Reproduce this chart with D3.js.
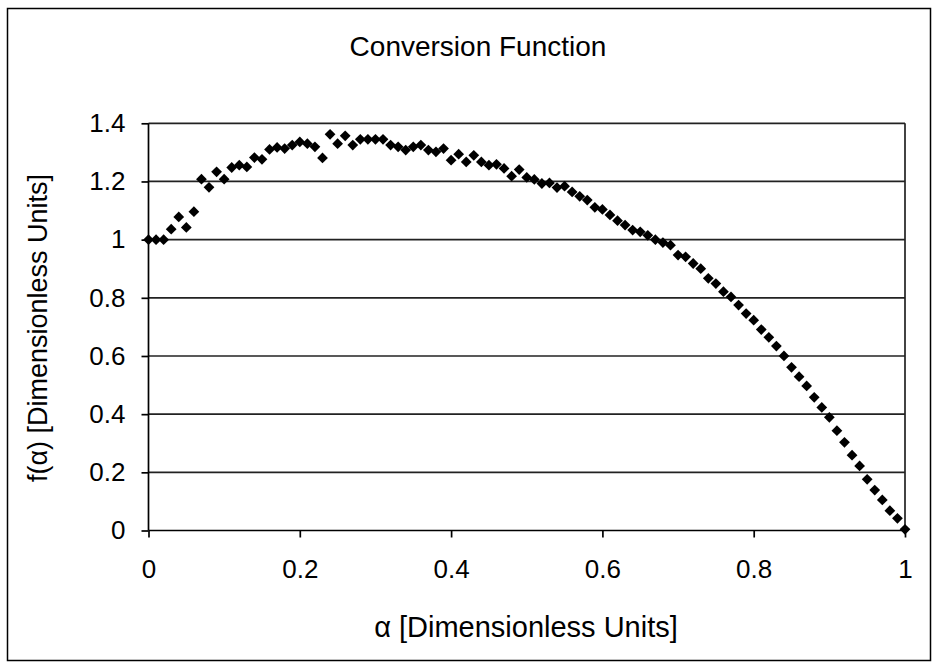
<!DOCTYPE html>
<html>
<head>
<meta charset="utf-8">
<script src="https://cdn.jsdelivr.net/npm/d3@7"></script>
<style>
  html, body { margin: 0; padding: 0; background: #fff; }
  svg text { font-family: "Liberation Sans", Arial, sans-serif; fill: #000; }
</style>
</head>
<body>
<svg id="chart" width="938" height="668"></svg>
<script>
// alpha samples (0 .. 1 in steps of 0.01)
const alphaValues = d3.range(0, 101).map(i => +(i / 100).toFixed(2));

// measured conversion function f(alpha)
const fValues = [
  1.00, 1.00, 1.00, 1.036, 1.078, 1.042, 1.096, 1.208, 1.18, 1.233,
  1.208, 1.248, 1.256, 1.25, 1.282, 1.276, 1.31, 1.317, 1.313, 1.325,
  1.336, 1.33, 1.319, 1.281, 1.362, 1.33, 1.357, 1.325, 1.345, 1.345,
  1.345, 1.345, 1.325, 1.319, 1.308, 1.319, 1.325, 1.308, 1.302, 1.313,
  1.273, 1.294, 1.267, 1.29, 1.267, 1.256, 1.259, 1.245, 1.218, 1.241,
  1.214, 1.207, 1.193, 1.195, 1.179, 1.184, 1.164, 1.149, 1.136, 1.111,
  1.104, 1.085, 1.065, 1.05, 1.033, 1.027, 1.015, 1.0, 0.99, 0.981,
  0.947, 0.941, 0.918, 0.90, 0.867, 0.849, 0.821, 0.803, 0.775, 0.746,
  0.723, 0.691, 0.664, 0.634, 0.60, 0.561, 0.529, 0.497, 0.458, 0.423,
  0.389, 0.343, 0.303, 0.259, 0.222, 0.176, 0.139, 0.105, 0.068, 0.042,
  0.004
];

const xTicks = [0, 0.2, 0.4, 0.6, 0.8, 1];
const yTicks = [0, 0.2, 0.4, 0.6, 0.8, 1, 1.2, 1.4];

const titleText = "Conversion Function";
const xTitle = "\u03B1 [Dimensionless Units]";
const yTitle = "f(\u03B1) [Dimensionless Units]";

const svg = d3.select("#chart");

// outer chart frame
svg.append("rect")
  .attr("x", 7.5).attr("y", 8.5)
  .attr("width", 923).attr("height", 652)
  .attr("fill", "#fff").attr("stroke", "#000").attr("stroke-width", 1.5);

const plot = { left: 148.5, right: 905, top: 123.3, bottom: 530.5 };

const x = d3.scaleLinear().domain([0, 1]).range([plot.left, plot.right]);
const y = d3.scaleLinear().domain([0, 1.4]).range([plot.bottom, plot.top]);

// horizontal gridlines
svg.append("g")
  .selectAll("line")
  .data(yTicks.filter(v => v > 0))
  .join("line")
  .attr("x1", plot.left).attr("x2", plot.right)
  .attr("y1", d => y(d)).attr("y2", d => y(d))
  .attr("stroke", "#222").attr("stroke-width", 1.7);

// right border of plot area
svg.append("line")
  .attr("x1", plot.right).attr("x2", plot.right)
  .attr("y1", plot.top).attr("y2", plot.bottom)
  .attr("stroke", "#222").attr("stroke-width", 1.7);

// axes
const xAxis = d3.axisBottom(x).tickValues(xTicks).tickSize(7).tickPadding(22)
  .tickFormat(d => d3.format("~g")(d));
const yAxis = d3.axisLeft(y).tickValues(yTicks).tickSize(7).tickPadding(16)
  .tickFormat(d => d3.format("~g")(d));

const gx = svg.append("g").attr("transform", `translate(0,${plot.bottom})`).call(xAxis);
const gy = svg.append("g").attr("transform", `translate(${plot.left},0)`).call(yAxis);

[gx, gy].forEach(g => {
  g.select(".domain").attr("stroke", "#000").attr("stroke-width", 1.7);
  g.selectAll(".tick line").attr("stroke", "#000").attr("stroke-width", 1.7);
  g.selectAll(".tick text")
    .style("font-family", "'Liberation Sans', Arial, sans-serif")
    .style("font-size", "26px").attr("fill", "#000");
});
gx.select(".domain").attr("d", `M${plot.left},0H${plot.right}`);
gy.select(".domain").attr("d", `M0,${plot.bottom}V${plot.top}`);

// data markers: small diamonds
const diamond = d3.symbol().type(d3.symbolSquare).size(58);
svg.append("g")
  .selectAll("path")
  .data(alphaValues.map((a, i) => [a, fValues[i]]))
  .join("path")
  .attr("d", diamond)
  .attr("transform", d => `translate(${x(d[0])},${y(d[1])}) rotate(45)`)
  .attr("fill", "#000");

// titles
svg.append("text")
  .attr("x", 478).attr("y", 56)
  .attr("text-anchor", "middle")
  .style("font-size", "28px")
  .text(titleText);

svg.append("text")
  .attr("x", 526).attr("y", 637)
  .attr("text-anchor", "middle")
  .style("font-size", "29px")
  .text(xTitle);

svg.append("text")
  .attr("transform", "translate(47,328) rotate(-90)")
  .attr("text-anchor", "middle")
  .style("font-size", "27px")
  .text(yTitle);
</script>
</body>
</html>
